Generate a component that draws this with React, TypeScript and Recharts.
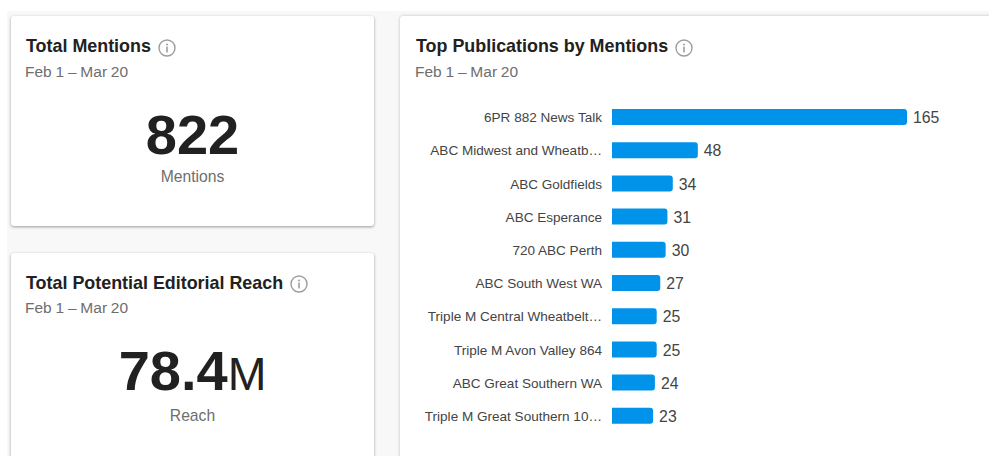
import { BarChart, Bar, XAxis, YAxis, LabelList } from "recharts";

const publications = [
  "6PR 882 News Talk",
  "ABC Midwest and Wheatb…",
  "ABC Goldfields",
  "ABC Esperance",
  "720 ABC Perth",
  "ABC South West WA",
  "Triple M Central Wheatbelt…",
  "Triple M Avon Valley 864",
  "ABC Great Southern WA",
  "Triple M Great Southern 10…",
];
const mentions = [165, 48, 34, 31, 30, 27, 25, 25, 24, 23];
const dateRange = "Feb 1 – Mar 20";

const chartData = publications.map((name, i) => ({ name, mentions: mentions[i] }));

const FONT = "'Liberation Sans', Arial, sans-serif";

function InfoIcon({ x, y }: { x: number; y: number }) {
  return (
    <svg width={18} height={18} viewBox="0 0 18 18" style={{ position: "absolute", left: x, top: y }}>
      <circle cx={9} cy={9} r={8} fill="none" stroke="#9e9e9e" strokeWidth={1.4} />
      <circle cx={9} cy={5.4} r={1} fill="#9e9e9e" />
      <rect x={8.2} y={7.6} width={1.6} height={5.8} fill="#9e9e9e" />
    </svg>
  );
}

function Title({ text, x, y }: { text: string; x: number; y: number }) {
  return (
    <div style={{ position: "absolute", left: x, top: y, fontSize: 17.9, lineHeight: "22px", fontWeight: 700, color: "#212121", whiteSpace: "nowrap" }}>
      {text}
    </div>
  );
}

function Sub({ x, y }: { x: number; y: number }) {
  return (
    <div style={{ position: "absolute", left: x, top: y, fontSize: 15.5, wordSpacing: -0.5, lineHeight: "18px", color: "#6e6e6e", whiteSpace: "nowrap" }}>
      {dateRange}
    </div>
  );
}

const cardStyle = {
  position: "absolute",
  background: "#fff",
  borderRadius: 3,
  boxShadow: "0 1px 3px rgba(0,0,0,0.38)",
} as const;

export default function App() {
  return (
    <div style={{ position: "absolute", left: 0, top: 0, width: 989, height: 456, overflow: "hidden", background: "#fff", fontFamily: FONT }}>
      <div style={{ position: "absolute", left: 7, top: 11, width: 982, height: 445, background: "#f8f8f8" }} />

      {/* Total mentions */}
      <div style={{ ...cardStyle, left: 11, top: 16, width: 363, height: 210 }} />
      <Title text="Total Mentions" x={26} y={35} />
      <InfoIcon x={158} y={39} />
      <Sub x={25} y={63} />
      <div style={{ position: "absolute", left: 11, width: 363, top: 103, textAlign: "center", fontSize: 56, lineHeight: "64px", fontWeight: 700, color: "#212121" }}>822</div>
      <div style={{ position: "absolute", left: 11, width: 363, top: 168, textAlign: "center", fontSize: 15.7, lineHeight: "18px", color: "#6e6e6e" }}>Mentions</div>

      {/* Total reach */}
      <div style={{ ...cardStyle, left: 11, top: 253, width: 363, height: 240 }} />
      <Title text="Total Potential Editorial Reach" x={26} y={272} />
      <InfoIcon x={290} y={275} />
      <Sub x={25} y={299} />
      <div style={{ position: "absolute", left: 11, width: 363, top: 339, textAlign: "center", fontSize: 56, lineHeight: "64px", fontWeight: 700, color: "#212121" }}>
        78.4<span style={{ fontWeight: 400, fontSize: 46.5 }}>M</span>
      </div>
      <div style={{ position: "absolute", left: 11, width: 363, top: 407, textAlign: "center", fontSize: 15.7, lineHeight: "18px", color: "#6e6e6e" }}>Reach</div>

      {/* Top publications */}
      <div style={{ ...cardStyle, left: 400, top: 16, width: 620, height: 480, boxShadow: "0 0 3px rgba(0,0,0,0.25)" }} />
      <Title text="Top Publications by Mentions" x={416} y={35} />
      <InfoIcon x={675} y={39} />
      <Sub x={415} y={63} />
      <div style={{ position: "absolute", left: 400, top: 100 }}>
        <BarChart
          width={589}
          height={332}
          data={chartData}
          layout="vertical"
          barSize={16}
          margin={{ top: 0, right: 82, bottom: 0, left: 0 }}
        >
          <XAxis type="number" hide domain={[0, 165]} />
          <YAxis
            type="category"
            dataKey="name"
            width={212}
            axisLine={false}
            tickLine={false}
            interval={0}
            tickMargin={4}
            tick={{ fill: "#444", fontSize: 13.55, fontFamily: FONT, dy: 0.7 }}
          />
          <Bar dataKey="mentions" fill="#0093e9" radius={[0, 3, 3, 0]} isAnimationActive={false}>
            <LabelList dataKey="mentions" position="right" offset={6} fill="#444" fontSize={15.8} fontFamily={FONT} dy={0.6} />
          </Bar>
        </BarChart>
      </div>
    </div>
  );
}
